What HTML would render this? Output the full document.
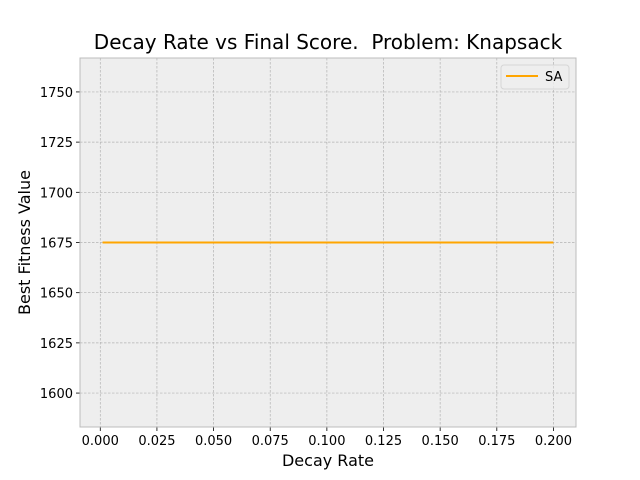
<!DOCTYPE html>
<html><head><meta charset="utf-8"><style>
body{margin:0;background:#fff;}
svg{display:block;font-family:"DejaVu Sans","Liberation Sans",sans-serif;}
</style></head><body>
<svg id="chart" width="640" height="480" viewBox="0 0 640 480" xmlns="http://www.w3.org/2000/svg">
<rect x="0" y="0" width="640" height="480" fill="#fff"/>
<rect x="80" y="58" width="496" height="369" fill="#eeeeee"/>
<g id="grid"></g>
<g id="ticks"></g>
<g id="series"></g>
<rect x="80" y="58" width="496" height="369" fill="none" stroke="#bcbcbc" stroke-width="1"/>
<text x="328" y="49" font-size="20" text-anchor="middle" fill="#000" style="white-space:pre">Decay Rate vs Final Score.&#160; Problem: Knapsack</text>
<text x="328" y="466" font-size="16" text-anchor="middle" fill="#000">Decay Rate</text>
<text x="0" y="0" font-size="16" text-anchor="middle" fill="#000" transform="translate(30,242.5) rotate(-90)">Best Fitness Value</text>
<g>
<rect x="501" y="65" width="68" height="24" rx="3" fill="#eeeeee" fill-opacity="0.8" stroke="#d5d5d5" stroke-width="1"/>
<line x1="506" y1="76" x2="538" y2="76" stroke="#FFA500" stroke-width="2"/>
<text x="545" y="81" font-size="13" fill="#000">SA</text>
</g>
</svg>
<script>
const xValues = [0.001, 0.025, 0.05, 0.075, 0.1, 0.125, 0.15, 0.175, 0.2];
const saValues = [1675, 1675, 1675, 1675, 1675, 1675, 1675, 1675, 1675];
const xTicks = [0.000, 0.025, 0.050, 0.075, 0.100, 0.125, 0.150, 0.175, 0.200];
const yTicks = [1600, 1625, 1650, 1675, 1700, 1725, 1750];

const X0=80,X1=576,Y0=58,Y1=427;
const xmin=-0.00895,xmax=0.20995,ymin=1583.1,ymax=1766.9;
const sx=v=>X0+(v-xmin)/(xmax-xmin)*(X1-X0);
const sy=v=>Y1-(v-ymin)/(ymax-ymin)*(Y1-Y0);
const NS="http://www.w3.org/2000/svg";
const grid=document.getElementById('grid'),ticks=document.getElementById('ticks'),series=document.getElementById('series');
function mk(tag,attrs,parent){const e=document.createElementNS(NS,tag);for(const k in attrs)e.setAttribute(k,attrs[k]);parent.appendChild(e);return e;}
xTicks.forEach(t=>{
  const x=sx(t);
  const g=mk('line',{x1:x,y1:Y0,x2:x,y2:Y1,stroke:'#b2b2b2','stroke-width':0.7,'stroke-dasharray':'2.5,1.5'},grid);
  
  
  const tk=mk('line',{x1:x,y1:Y1,x2:x,y2:Y1+4,stroke:'#000','stroke-width':0.8},ticks);
  
  
  const l=mk('text',{x:x,y:Y1+18,'font-size':13,'text-anchor':'middle',fill:'#000'},ticks);
  l.textContent=t.toFixed(3);
  
  
});
yTicks.forEach(t=>{
  const y=sy(t);
  const g=mk('line',{x1:X0,y1:y,x2:X1,y2:y,stroke:'#b2b2b2','stroke-width':0.7,'stroke-dasharray':'2.5,1.5'},grid);
  
  
  const tk=mk('line',{x1:X0-4,y1:y,x2:X0,y2:y,stroke:'#000','stroke-width':0.8},ticks);
  
  
  const l=mk('text',{x:X0-7,y:y+5,'font-size':13,'text-anchor':'end',fill:'#000'},ticks);
  l.textContent=t;
  
  
});
const pts=xValues.map((v,i)=>sx(v)+','+sy(saValues[i])).join(' ');
const line=mk('polyline',{points:pts,fill:'none',stroke:'#FFA500','stroke-width':2},series);


</script>
</body></html>
